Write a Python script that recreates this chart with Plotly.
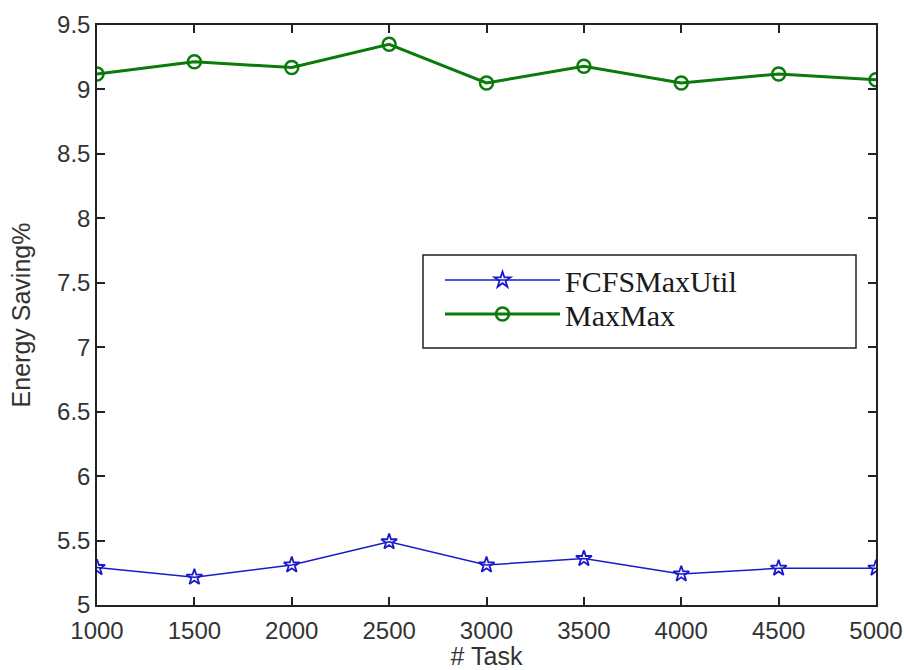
import plotly.graph_objects as go

tasks = [1000, 1500, 2000, 2500, 3000, 3500, 4000, 4500, 5000]
fcfs_maxutil = [5.29, 5.215, 5.31, 5.49, 5.31, 5.36, 5.24, 5.285, 5.285]
maxmax = [9.12, 9.215, 9.17, 9.35, 9.05, 9.18, 9.05, 9.12, 9.075]

x_ticks = [1000, 1500, 2000, 2500, 3000, 3500, 4000, 4500, 5000]
y_ticks = [5, 5.5, 6, 6.5, 7, 7.5, 8, 8.5, 9, 9.5]
y_tick_text = ["5", "5.5", "6", "6.5", "7", "7.5", "8", "8.5", "9", "9.5"]

# plot area in pixels
L, R, T, B = 97, 876, 25, 605
W, H = R - L, B - T

fig = go.Figure()
fig.add_trace(go.Scatter(
    x=tasks, y=fcfs_maxutil, name="FCFSMaxUtil", mode="lines+markers",
    line=dict(color="#1a1acc", width=1.5),
    marker=dict(symbol="star-open", size=12, color="#1a1acc", line=dict(width=1.8)),
    legend="legend", showlegend=True,
))
fig.add_trace(go.Scatter(
    x=tasks, y=maxmax, name="MaxMax", mode="lines+markers",
    line=dict(color="#0a7a0a", width=3),
    marker=dict(symbol="circle-open", size=13, color="#0a7a0a", line=dict(width=2.5)),
    legend="legend2", showlegend=True,
))

axis_common = dict(
    showgrid=False, zeroline=False, showline=True, linecolor="#222",
    linewidth=1.5, mirror="ticks", ticks="inside", ticklen=8,
    tickcolor="#222", tickwidth=1.5, automargin=False,
    tickfont=dict(family="Liberation Sans, Arial", size=24, color="#333"),
)

legend_common = dict(
    xanchor="left", yanchor="top", borderwidth=0, bgcolor="rgba(0,0,0,0)",
    font=dict(family="Liberation Serif, Times New Roman", size=30, color="#1a1a1a"),
    itemwidth=115, visible=True,
)

fig.update_layout(
    width=904, height=670, showlegend=True,
    margin=dict(l=L, r=904 - R, t=T, b=670 - B, autoexpand=False),
    paper_bgcolor="white", plot_bgcolor="white",
    xaxis=dict(range=[1000, 5000], tickvals=x_ticks, ticklabelstandoff=3,
               title=dict(text="# Task", standoff=5,
                          font=dict(family="Liberation Sans, Arial", size=25, color="#333")),
               **axis_common),
    yaxis=dict(range=[5, 9.5], tickvals=y_ticks, ticktext=y_tick_text,
               title=dict(text="Energy Saving%", standoff=19,
                          font=dict(family="Liberation Sans, Arial", size=25, color="#333")),
               **axis_common),
    legend=dict(x=(440 - L) / W, y=(B - 254) / H, **legend_common),
    legend2=dict(x=(440 - L) / W, y=(B - 288) / H, **legend_common),
    shapes=[dict(
        type="rect", xref="paper", yref="paper",
        x0=(423 - L) / W, x1=(856 - L) / W,
        y0=(B - 348) / H, y1=(B - 255) / H,
        line=dict(color="#222", width=1.5), fillcolor="white", layer="below",
    )],
)

fig.write_html("out.html")
